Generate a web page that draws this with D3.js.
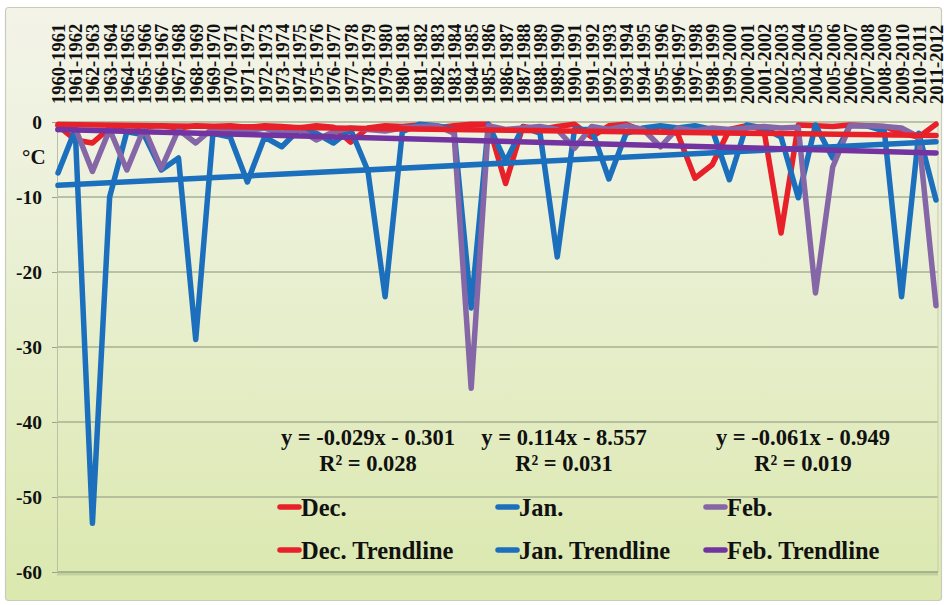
<!DOCTYPE html>
<html>
<head>
<meta charset="utf-8">
<script src="https://cdn.jsdelivr.net/npm/d3@7"></script>
<style>
  html, body { margin: 0; padding: 0; background: #ffffff; }
  svg { display: block; }
</style>
</head>
<body>
<svg id="chart" width="944" height="605"></svg>
<script>
// Winter seasons on the category axis
const seasons = [];
for (let y = 1960; y <= 2011; y++) seasons.push(y + "-" + (y + 1));

// Monthly minimum temperature anomalies (°C)
const decValues = [-0.5, -2.4, -2.8, -0.8, -0.5, -0.6, -0.5, -0.8, -0.5, -0.6,
  -0.5, -0.7, -0.5, -0.6, -0.8, -0.5, -0.7, -2.7, -0.8, -0.5,
  -0.6, -0.4, -0.8, -0.5, -0.3, -0.3, -8.2, -0.6, -1.0, -0.6,
  -0.3, -2.0, -0.5, -0.3, -1.2, -0.6, -1.6, -7.5, -5.7, -1.0,
  -0.5, -1.0, -14.8, -0.4, -0.5, -0.6, -0.4, -0.5, -0.6, -1.5,
  -2.0, -0.3];
const janValues = [-6.8, -1.0, -53.5, -10.0, -1.3, -1.7, -6.4, -4.8, -29.0, -1.5,
  -2.0, -8.0, -2.0, -3.3, -1.0, -1.5, -2.8, -1.0, -6.5, -23.3,
  -1.3, -0.3, -0.5, -1.0, -24.8, -0.3, -5.3, -0.7, -1.5, -18.0,
  -1.0, -1.0, -7.6, -1.5, -0.8, -0.5, -0.8, -0.5, -1.0, -7.7,
  -0.4, -0.8, -2.0, -10.1, -0.4, -4.8, -0.5, -0.5, -1.2, -23.3,
  -1.5, -10.4];
const febValues = [-1.0, -0.8, -6.6, -1.0, -6.4, -0.8, -6.2, -1.0, -2.8, -0.8,
  -1.0, -1.2, -0.8, -1.5, -1.0, -2.4, -1.3, -0.8, -1.0, -1.2,
  -0.8, -0.6, -0.5, -1.5, -35.5, -0.5, -1.0, -0.8, -0.6, -1.0,
  -3.5, -0.6, -1.0, -0.5, -1.0, -3.3, -0.8, -1.2, -0.8, -1.0,
  -0.8, -0.6, -0.8, -0.7, -22.8, -6.0, -0.5, -0.5, -0.6, -0.8,
  -2.0, -24.5];

// Linear trendlines y = slope * x + intercept, x = 1..n
const trendSlopes = [-0.029, 0.114, -0.061];
const trendIntercepts = [-0.301, -8.557, -0.949];
const trendR2 = ["0.028", "0.031", "0.019"];

const yTicks = [0, -10, -20, -30, -40, -50, -60];
const seriesNames = ["Dec.", "Jan.", "Feb."];
const seriesColors = ["#e8202a", "#1b6fbd", "#8566a6"];
const trendColors = ["#e8202a", "#1b6fbd", "#7234a0"];

const FONT = "'Liberation Serif', 'Times New Roman', Tinos, 'DejaVu Serif', serif";

const svg = d3.select("#chart");
const W = 944, H = 605;
const plot = { left: 57, right: 938, top: 122, bottom: 572 };

// Backgrounds
const defs = svg.append("defs");
const bg = defs.append("linearGradient").attr("id", "bgGrad")
  .attr("x1", 0).attr("y1", 0).attr("x2", 0).attr("y2", 1);
bg.append("stop").attr("offset", "0%").attr("stop-color", "#f3f3e8");
bg.append("stop").attr("offset", "25%").attr("stop-color", "#eef2de");
bg.append("stop").attr("offset", "100%").attr("stop-color", "#dbe8ae");

svg.append("rect").attr("width", W).attr("height", H).attr("fill", "#ffffff");
svg.append("rect").attr("x", 5.5).attr("y", 7.5).attr("width", 936).attr("height", 593)
  .attr("rx", 3).attr("fill", "url(#bgGrad)").attr("stroke", "#c9ccbc").attr("stroke-width", 1.2);

const x = d3.scalePoint().domain(seasons).range([58, 936]);
const y = d3.scaleLinear().domain([-60, 0]).range([plot.bottom, plot.top]);

// Horizontal gridlines
svg.append("g").selectAll("line").data(yTicks.filter(d => d !== -60)).join("line")
  .attr("x1", plot.left).attr("x2", plot.right)
  .attr("y1", d => y(d)).attr("y2", d => y(d))
  .attr("stroke", "#a9b193").attr("stroke-width", 1.3);
// plot right edge
svg.append("line").attr("x1", plot.right).attr("x2", plot.right)
  .attr("y1", plot.top).attr("y2", plot.bottom)
  .attr("stroke", "#c4cbb0").attr("stroke-width", 1);
// bottom axis line with soft shadow
svg.append("line").attr("x1", plot.left).attr("x2", plot.right)
  .attr("y1", plot.bottom + 2).attr("y2", plot.bottom + 2)
  .attr("stroke", "#b8c79a").attr("stroke-width", 3).attr("opacity", 0.7);
svg.append("line").attr("x1", plot.left).attr("x2", plot.right)
  .attr("y1", plot.bottom).attr("y2", plot.bottom)
  .attr("stroke", "#97a57f").attr("stroke-width", 1.6);

// Y axis
const yAxis = svg.append("g").attr("transform", `translate(${plot.left},0)`)
  .call(d3.axisLeft(y).tickValues(yTicks).tickSize(5).tickPadding(10).tickFormat(d => String(d)));
yAxis.attr("font-family", null).attr("font-size", null);
yAxis.select(".domain").attr("stroke", "#b9c0a6").attr("stroke-width", 1);
yAxis.selectAll(".tick line").attr("stroke", "#9aa385");
yAxis.selectAll(".tick text")
  .style("font-family", FONT).style("font-weight", "bold")
  .style("font-size", "19.5px").attr("fill", "#111");

svg.append("text").attr("x", 22).attr("y", 157).attr("dy", "0.35em")
  .style("font-family", FONT).style("font-weight", "bold")
  .style("font-size", "21px").attr("fill", "#111").text("°C");

// Category labels along the top, rotated
const xAxis = svg.append("g").attr("transform", "translate(0,104)")
  .call(d3.axisTop(x).tickSize(0));
xAxis.attr("font-family", null).attr("font-size", null);
xAxis.select(".domain").remove();
xAxis.selectAll(".tick text")
  .attr("transform", "rotate(-90)")
  .attr("x", 0).attr("y", 0).attr("dy", "0.35em")
  .attr("text-anchor", "start")
  .style("font-family", FONT).style("font-weight", "bold")
  .style("font-size", "18.5px").attr("fill", "#111");

// Data series
const allSeries = [decValues, janValues, febValues];
const line = d3.line().x((d, i) => x(seasons[i])).y(d => y(d)).curve(d3.curveLinear);
allSeries.forEach((vals, k) => {
  svg.append("path").datum(vals).attr("d", line)
    .attr("fill", "none").attr("stroke", seriesColors[k])
    .attr("stroke-width", 5.5).attr("stroke-linejoin", "round").attr("stroke-linecap", "round");
});

// Trendlines
trendSlopes.forEach((m, k) => {
  const pts = [1, seasons.length].map(n => [x(seasons[n - 1]), y(m * n + trendIntercepts[k])]);
  svg.append("line")
    .attr("x1", pts[0][0]).attr("y1", pts[0][1]).attr("x2", pts[1][0]).attr("y2", pts[1][1])
    .attr("stroke", trendColors[k]).attr("stroke-width", 5.5).attr("stroke-linecap", "round");
});

// Trendline equations
const fmt = v => (v < 0 ? "- " : "+ ") + Math.abs(v).toFixed(3);
const eqX = [368, 564, 803];
trendSlopes.forEach((m, k) => {
  const g = svg.append("g");
  g.append("text").attr("x", eqX[k]).attr("y", 445).attr("text-anchor", "middle")
    .style("font-family", FONT).style("font-weight", "bold")
    .style("font-size", "22.5px").attr("fill", "#111")
    .text(`y = ${m.toFixed(3)}x ${fmt(trendIntercepts[k])}`);
  g.append("text").attr("x", eqX[k]).attr("y", 471).attr("text-anchor", "middle")
    .style("font-family", FONT).style("font-weight", "bold")
    .style("font-size", "22.5px").attr("fill", "#111")
    .text(`R² = ${trendR2[k]}`);
});

// Legend
const legX = [278, 496, 704];
const legRows = [507, 550];
[0, 1].forEach(row => {
  seriesNames.forEach((name, k) => {
    const g = svg.append("g").attr("transform", `translate(${legX[k]},${legRows[row]})`);
    g.append("line").attr("x1", 2).attr("x2", 21).attr("y1", 0).attr("y2", 0)
      .attr("stroke", row === 0 ? seriesColors[k] : trendColors[k])
      .attr("stroke-width", 5.5).attr("stroke-linecap", "round");
    g.append("text").attr("x", 23).attr("y", 0).attr("dy", "0.35em")
      .style("font-family", FONT).style("font-weight", "bold")
      .style("font-size", "24.5px").attr("fill", "#111")
      .text(row === 0 ? name : name + " Trendline");
  });
});
</script>
</body>
</html>
